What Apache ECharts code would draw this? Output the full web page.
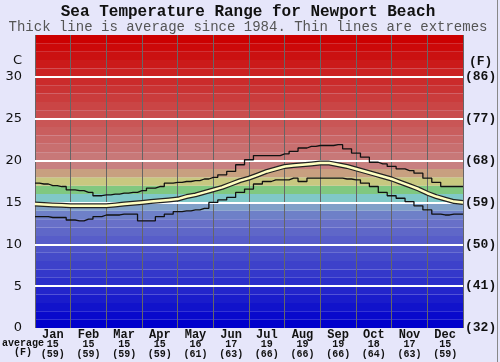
<!DOCTYPE html>
<html>
<head>
<meta charset="utf-8">
<script src="https://cdn.jsdelivr.net/npm/echarts@6/dist/echarts.min.js"></script>
<style>
  html, body { margin: 0; padding: 0; background: #e6e6fa; }
  #chart { width: 500px; height: 362px; }
</style>
</head>
<body>
<div id="chart"></div>
<script>
// months and the monthly average labels under the axis
var months = ['Jan', 'Feb', 'Mar', 'Apr', 'May', 'Jun', 'Jul', 'Aug', 'Sep', 'Oct', 'Nov', 'Dec']
var avgC = [15, 15, 15, 15, 16, 17, 19, 19, 19, 18, 17, 15]
var avgF = [59, 59, 59, 59, 61, 63, 66, 66, 66, 64, 63, 59]

// position in months (0 = 1 Jan, 12 = 31 Dec), every quarter month
var pos = [0, 0.25, 0.5, 0.75, 1, 1.25, 1.5, 1.75, 2, 2.25, 2.5, 2.75, 3, 3.25, 3.5, 3.75,
  4, 4.25, 4.5, 4.75, 5, 5.25, 5.5, 5.75, 6, 6.25, 6.5, 6.75, 7, 7.25, 7.5, 7.75,
  8, 8.25, 8.5, 8.75, 9, 9.25, 9.5, 9.75, 10, 10.25, 10.5, 10.75, 11, 11.25, 11.5, 11.75, 12]

var maxT = [17.3, 17.2, 17.0, 16.9, 16.5, 16.4, 16.2, 15.8, 15.9, 16.0, 16.1, 16.2, 16.4, 16.7, 16.9, 17.3,
  17.4, 17.5, 17.6, 17.8, 18.0, 18.3, 18.7, 19.5, 20.1, 20.6, 20.6, 20.6, 20.8, 21.1, 21.5, 21.7,
  21.8, 21.8, 21.9, 21.4, 20.9, 20.4, 19.8, 19.6, 19.3, 19.0, 18.8, 18.5, 17.9, 17.4, 16.9, 16.9, 16.9]

var avgT = [14.8, 14.75, 14.7, 14.65, 14.6, 14.6, 14.6, 14.6, 14.6, 14.7, 14.8, 14.9, 15.0, 15.1, 15.2, 15.3,
  15.4, 15.7, 15.9, 16.2, 16.5, 16.8, 17.2, 17.6, 17.9, 18.3, 18.7, 19.0, 19.3, 19.4, 19.5, 19.6,
  19.7, 19.7, 19.5, 19.3, 19.0, 18.7, 18.4, 18.1, 17.8, 17.4, 17.0, 16.6, 16.1, 15.7, 15.4, 15.1, 15.0]

var minT = [13.3, 13.3, 13.2, 13.2, 12.9, 12.8, 13.0, 13.3, 13.5, 13.5, 13.6, 13.6, 12.8, 12.8, 13.3, 13.6,
  13.9, 14.0, 14.1, 14.3, 15.0, 15.3, 15.6, 16.2, 16.6, 17.2, 17.5, 17.7, 17.7, 17.9, 17.5, 17.9,
  17.9, 17.9, 17.9, 17.8, 17.7, 17.3, 16.9, 16.2, 15.8, 15.5, 15.1, 14.6, 14.1, 13.6, 13.5, 13.6, 13.6]

function pairs (arr) {
  return pos.map(function (p, i) { return [p, arr[i]] })
}

// one colour band per degree, bottom (0-1 C) first
function mix (a, b, t) {
  return 'rgb(' + a.map(function (v, i) { return Math.round(v + (b[i] - v) * t) }).join(',') + ')'
}
var bands = []
for (var i = 0; i < 13; i++) bands.push(mix([0, 0, 204], [104, 112, 200], i / 12))
bands.push('#6e80c8') // 13-14
bands.push('#80a0c8') // 14-15
bands.push('#80c8c8') // 15-16
bands.push('#80c880') // 16-17
bands.push('#c8c880') // 17-18
bands.push('#c8a080') // 18-19
bands.push('#c88080') // 19-20
for (var j = 0; j < 15; j++) bands.push(mix([200, 120, 120], [204, 0, 0], j / 14))

var mono = '"Liberation Mono", "DejaVu Sans Mono", monospace'
var myChart = echarts.init(document.getElementById('chart'))

var option = {
  backgroundColor: '#e6e6fa',
  animation: false,
  grid: { left: 35, right: 37, top: 35, bottom: 34 },
  xAxis: [
    {
      type: 'category',
      data: months,
      boundaryGap: true,
      axisLine: { show: false },
      axisTick: { show: false },
      splitLine: { show: true, interval: 0, lineStyle: { color: '#666', width: 1 } },
      axisLabel: {
        interval: 0,
        margin: 1,
        formatter: function (v, i) {
          return '{m|' + v + '}\n{v|' + avgC[i] + '}\n{v|(' + avgF[i] + ')}'
        },
        rich: {
          m: { fontFamily: mono, fontSize: 12, fontWeight: 'bold', color: '#111', lineHeight: 11 },
          v: { fontFamily: mono, fontSize: 10, fontWeight: 'bold', color: '#111', lineHeight: 9.5 }
        }
      }
    },
    { type: 'value', min: 0, max: 12, show: false }
  ],
  yAxis: [
    {
      type: 'value', min: 0, max: 35, interval: 5, position: 'left',
      axisLine: { show: false }, axisTick: { show: false },
      axisLabel: {
        margin: 13, fontSize: 13, color: '#111', fontFamily: '"DejaVu Sans", sans-serif',
        formatter: function (v) { return v === 35 ? '' : v }
      },
      splitLine: { show: true, showMinLine: false, showMaxLine: false, lineStyle: { color: '#fff', width: 2 } },
      z: 3
    },
    {
      type: 'value', min: 0, max: 35, interval: 5, position: 'right',
      axisLine: { show: false }, axisTick: { show: false }, splitLine: { show: false },
      axisLabel: {
        margin: 2, fontSize: 13, fontWeight: 'bold', color: '#111', fontFamily: mono,
        formatter: function (v) { return v === 35 ? '' : '(' + Math.round(v * 9 / 5 + 32) + ')' }
      }
    },
    {
      type: 'value', min: 0, max: 35, interval: 1, show: true, position: 'left',
      axisLine: { show: false }, axisTick: { show: false }, axisLabel: { show: false },
      splitLine: { show: false },
      splitArea: { show: true, areaStyle: { color: bands } },
      z: 0
    }
  ],
  graphic: [
    {
      type: 'text', x: 248, y: 12,
      style: { text: 'Sea Temperature Range for Newport Beach', font: 'bold 16px ' + mono, fill: '#111', align: 'center', verticalAlign: 'middle' }
    },
    {
      type: 'text', x: 248, y: 27,
      style: { text: 'Thick line is average since 1984. Thin lines are extremes', font: '14px ' + mono, fill: '#555', align: 'center', verticalAlign: 'middle' }
    },
    { type: 'text', left: 13, top: 54, style: { text: 'C', font: '13px "DejaVu Sans", sans-serif', fill: '#111' } },
    { type: 'text', left: 469, top: 55, style: { text: '(F)', font: 'bold 13px ' + mono, fill: '#111' } },
    { type: 'text', left: 2, top: 338, style: { text: 'average', font: 'bold 10px ' + mono, fill: '#111' } },
    { type: 'text', left: 14, top: 347, style: { text: '(F)', font: 'bold 10px ' + mono, fill: '#111' } },
    { type: 'rect', right: 2, top: 0, shape: { width: 1, height: 362 }, style: { fill: '#888' } }
  ],
  series: [
    {
      name: 'max', type: 'line', xAxisIndex: 1, yAxisIndex: 0, step: 'middle',
      showSymbol: false, data: pairs(maxT), lineStyle: { color: '#111', width: 1.3 }
    },
    {
      name: 'min', type: 'line', xAxisIndex: 1, yAxisIndex: 0, step: 'middle',
      showSymbol: false, data: pairs(minT), lineStyle: { color: '#111', width: 1.3 }
    },
    {
      name: 'avgEdge', type: 'line', xAxisIndex: 1, yAxisIndex: 0,
      showSymbol: false, data: pairs(avgT), lineStyle: { color: '#222', width: 5 }
    },
    {
      name: 'average', type: 'line', xAxisIndex: 1, yAxisIndex: 0,
      showSymbol: false, data: pairs(avgT), lineStyle: { color: '#ffffc0', width: 2.5 }
    }
  ]
}

myChart.setOption(option)
</script>
</body>
</html>
